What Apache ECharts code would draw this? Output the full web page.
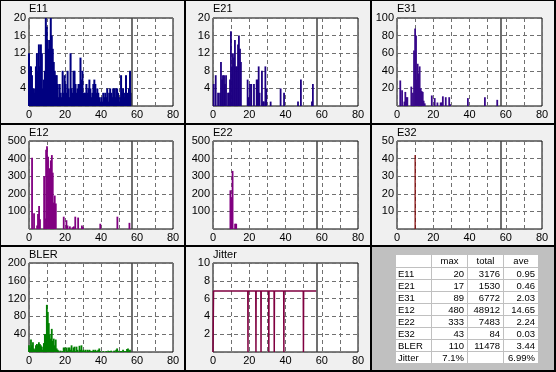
<!DOCTYPE html>
<html><head><meta charset="utf-8">
<script src="https://cdn.jsdelivr.net/npm/echarts@6/dist/echarts.min.js"></script>
<style>html,body{margin:0;padding:0;background:#000}#c{width:556px;height:372px}</style>
</head><body><div id="c"></div>
<script>
// ---------- data ----------
const titles = ['E11','E21','E31','E12','E22','E32','BLER','Jitter'];
const yMaxes = [20, 20, 100, 500, 500, 50, 200, 10];
const ySteps = [4, 4, 20, 100, 100, 10, 40, 2];
const xTickLabels = [0, 20, 40, 60, 80];
const markerX = 57;
const sampleStep = 0.55; // x spacing of dense samples

const e11Values = [12,9,9,7,4,4,3,9,12,8,14,9,14,12,4,6,8,20,18,15,13,15,20,16,13,10,8,7,7,5,2,5,3,2,8,3,7,5,3,8,4,2,12,4,3,8,8,5,3,4,5,5,11,6,8,3,3,3,5,3,4,6,4,2,3,5,6,5,3,4,3,2,1,2,1,3,2,3,2,4,1,3,4,3,2,4,4,2,4,4,3,1,2,7,3,4,2,3,7,3,1,4,8,3];
const blerValues = [15,10,28,15,22,8,5,15,18,15,22,18,15,12,5,20,40,40,106,90,65,40,30,52,25,30,15,28,8,5,3,0,3,0,2,10,10,0,10,3,10,10,5,15,3,10,12,2,12,5,0,14,5,15,3,5,2,5,0,5,3,5,3,2,2,5,3,5,2,3,5,8,2,0,0,2,0,0,2,0,3,2,2,3,0,0,3,0,5,8,3,0,2,2,0,5,2,0,2,7,8,3,5];

const e21Points = [[0.4,5],[1.5,7],[2.8,3],[3.9,3],[4.4,10],[5,6],[5.5,7],[6.1,7],[6.6,5],[7.2,7],[8.3,3],[8.8,3],[9.4,6],[9.9,17],[10.5,9],[11,12],[11.6,11],[12.1,15],[12.7,9],[13.2,9],[13.8,14],[14.3,16],[14.9,13],[15.4,10],[19.1,6],[19.7,2],[20.4,5],[21.1,5],[22.6,5],[24.1,6],[24.6,6],[25.2,9],[25.7,3],[27,8],[27.6,1],[28.1,1],[28.9,9],[29.4,4],[31.8,1],[37.3,4],[39.2,3],[46.9,1],[48.5,6],[54.6,1],[55.1,5]];
const e31Points = [[1.8,29],[2.8,18],[4.1,5],[4.6,16],[5.2,10],[5.7,10],[7.9,22],[8.8,15],[9.4,63],[10,88],[10.5,80],[10.9,30],[11.4,48],[12,37],[12.5,45],[13.1,20],[13.6,17],[14.2,16],[14.7,6],[15.3,3],[19.2,12],[20.8,9],[22.3,4],[24.1,4],[24.7,4],[25.3,11],[26.9,10],[28.8,10],[29.3,2],[39.1,9],[48.5,10],[55.3,7]];
const e12Points = [[1.7,405],[2.8,90],[4.5,20],[5,85],[5.6,130],[6.1,55],[8.4,300],[8.9,60],[9.5,450],[10,470],[10.6,410],[11.2,310],[11.5,345],[12.1,390],[12.7,420],[13.2,320],[13.8,150],[14.3,190],[14.9,145],[19.3,70],[20.8,50],[21.4,20],[22.7,15],[24.2,10],[24.9,15],[25.7,70],[27.3,65],[29.4,20],[30,10],[39.6,30],[49.1,70],[55.8,35]];
const e22Points = [[9.6,220],[10.2,180],[10.8,330],[12.2,30],[12.8,30]];
const e32Points = [[10,42]];
const jitterPoints = [[0,0],[0.3,6.85],[19.2,6.85],[19.3,0],[19.4,6.85],[23.6,6.85],[23.7,0],[23.8,6.85],[26.4,6.85],[26.5,0],[26.6,6.85],[30.7,6.85],[30.8,0],[30.9,6.85],[33.7,6.85],[33.8,0],[33.9,6.85],[39.0,6.85],[39.1,0],[39.2,6.85],[39.5,7.05],[39.8,6.85],[41.9,6.85],[42,7.05],[42.1,6.85],[45.1,6.85],[45.2,7.05],[45.3,6.85],[45.9,6.85],[46,7.05],[46.1,6.85],[46.7,6.85],[46.8,7.05],[46.9,6.85],[47.5,6.85],[47.6,7.05],[47.7,6.85],[48.3,6.85],[48.4,7.05],[48.5,6.85],[49.8,6.85],[49.9,0],[50,6.85],[50.9,6.85],[51,7.05],[51.1,6.85],[57,6.85]];

const tableHeader = ['', 'max', 'total', 'ave'];
const tableNames = ['E11','E21','E31','E12','E22','E32','BLER','Jitter'];
const tableMax = ['20','17','89','480','333','43','110','7.1%'];
const tableTotal = ['3176','1530','6772','48912','7483','84','11478',''];
const tableAve = ['0.95','0.46','2.03','14.65','2.24','0.03','3.44','6.99%'];

// ---------- layout ----------
const colLeft = [29, 213, 397];
const colWidth = [144, 145, 145];
const rowTop = [18, 141, 263];
const rowHeight = [88, 88, 89];
const panelX = [[1,184],[186,370],[372,554]];
const panelY = [[1,123],[125,245],[247,370]];

const FONT = 'Liberation Sans';
const grids = [], xAxes = [], yAxes = [], graphics = [];

for (let r = 0; r < 3; r++) for (let c = 0; c < 3; c++) {
  graphics.push({type:'rect', z:-100, silent:true,
    shape:{x:panelX[c][0], y:panelY[r][0], width:panelX[c][1]-panelX[c][0], height:panelY[r][1]-panelY[r][0]},
    style:{fill: (r===2 && c===2) ? '#c0c0c0' : '#f0f0f0'}});
}

for (let i = 0; i < 8; i++) {
  const r = Math.floor(i/3), c = i%3;
  grids.push({left:colLeft[c], top:rowTop[r], width:colWidth[c], height:rowHeight[r],
    show:true, backgroundColor:'#fff', borderColor:'#000', borderWidth:1, containLabel:false});
  xAxes.push({type:'value', gridIndex:i, min:0, max:80, interval:10,
    axisLine:{show:false}, axisTick:{show:false},
    axisLabel:{color:'#000', fontSize:11, fontFamily:FONT, margin:3,
      formatter: v => xTickLabels.indexOf(v) >= 0 ? String(v) : ''},
    splitLine:{show:true, lineStyle:{color:'#707070', width:1, type:[4,3]}}});
  yAxes.push({type:'value', gridIndex:i, min:0, max:yMaxes[i], interval:ySteps[i],
    axisLine:{show:false}, axisTick:{show:false},
    axisLabel:{color:'#000', fontSize:11, fontFamily:FONT, margin:3,
      formatter: v => v === 0 ? '' : String(v)},
    splitLine:{show:true, lineStyle:{color:'#707070', width:1, type:[4,3]}}});
  graphics.push({type:'text', silent:true, left:colLeft[c], top:panelY[r][0]+2,
    style:{text:titles[i], fill:'#000', font:'11px ' + FONT}});
}

const marker = {silent:true, symbol:['none','none'], animation:false, label:{show:false},
  lineStyle:{color:'#404040', width:1.5, type:'solid'}, data:[{xAxis:markerX}]};

const dense = vals => vals.map((v, k) => [k*sampleStep, v]).filter(p => p[1] > 0);

function barSeries(idx, data, color, w) {
  return {type:'bar', xAxisIndex:idx, yAxisIndex:idx, data:data, barWidth:w,
    itemStyle:{color:color}, silent:true, animation:false, markLine:marker};
}

const series = [
  barSeries(0, dense(e11Values), '#000080', 2),
  barSeries(1, e21Points, '#1e0082', 1.8),
  barSeries(2, e31Points, '#38088a', 1.8),
  barSeries(3, e12Points, '#800080', 1.8),
  barSeries(4, e22Points, '#800080', 1.8),
  barSeries(5, e32Points, '#800000', 1.2),
  barSeries(6, dense(blerValues), '#008000', 1.8),
  {type:'line', xAxisIndex:7, yAxisIndex:7, data:jitterPoints, showSymbol:false, symbol:'none',
   lineStyle:{color:'#800040', width:1.5}, itemStyle:{color:'#800040'}, silent:true, animation:false, markLine:marker}
];

// table
const tColX = [396, 431, 467, 503, 538];
const tTop = 255, tRowH = 12;
const rows = [tableHeader].concat(tableNames.map((n,k) => [n, tableMax[k], tableTotal[k], tableAve[k]]));
rows.forEach((row, ri) => {
  row.forEach((txt, ci) => {
    const x0 = tColX[ci] + (ci === 0 ? 0 : 1), x1 = tColX[ci+1];
    const y0 = tTop + ri*tRowH + (ri === 0 ? 0 : 1), y1 = tTop + (ri+1)*tRowH;
    graphics.push({type:'rect', silent:true, z:1, shape:{x:x0, y:y0, width:x1-x0, height:y1-y0}, style:{fill:'#fff'}});
    if (txt) {
      let align = 'right', tx = x1 - 3;
      if (ci === 0) { align = 'left'; tx = x0 + 2; }
      else if (ri === 0) { align = 'center'; tx = (x0 + x1) / 2; }
      graphics.push({type:'text', silent:true, z:2, x:tx, y:(y0+y1)/2 + 0.5,
        style:{text:txt, fill:'#000', font:'9.5px ' + FONT, align:align, verticalAlign:'middle'}});
    }
  });
});

const chart = echarts.init(document.getElementById('c'), null, {renderer:'canvas'});
chart.setOption({
  backgroundColor:'#000',
  animation:false,
  grid:grids, xAxis:xAxes, yAxis:yAxes, series:series,
  graphic:{elements:graphics}
});
</script></body></html>
